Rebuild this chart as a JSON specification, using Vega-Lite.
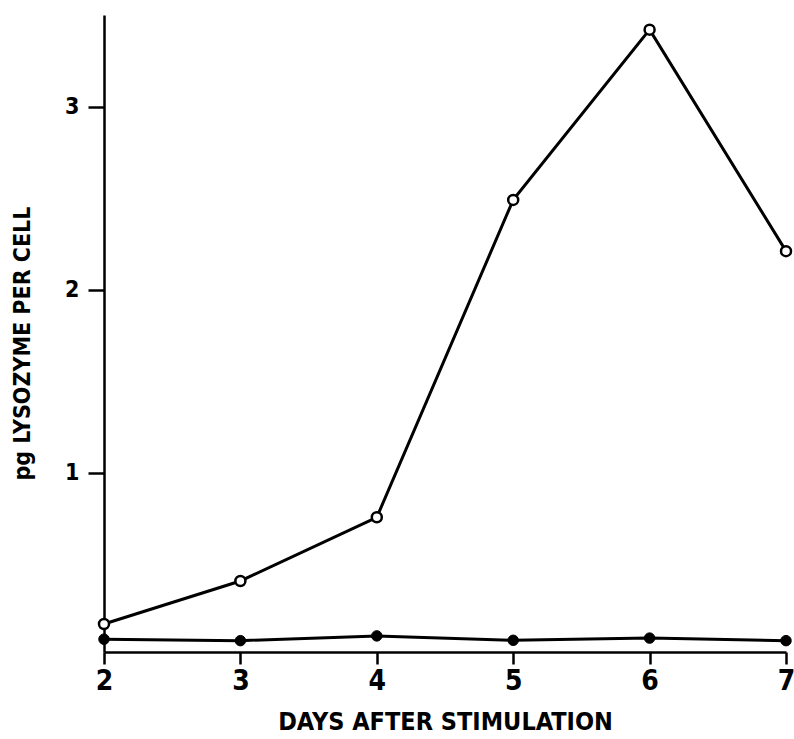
{
  "$schema": "https://vega.github.io/schema/vega-lite/v6.json",
  "width": 682,
  "height": 637,
  "autosize": {"type": "none"},
  "padding": {"left": 104, "top": 15, "right": 8, "bottom": 87},
  "background": "white",
  "config": {
    "view": {"stroke": null},
    "font": "DejaVu Sans Condensed, Liberation Sans, sans-serif"
  },
  "data": {
    "values": [
      {"day": 2, "lysozyme": 0.173, "group": "open"},
      {"day": 3, "lysozyme": 0.408, "group": "open"},
      {"day": 4, "lysozyme": 0.756, "group": "open"},
      {"day": 5, "lysozyme": 2.49, "group": "open"},
      {"day": 6, "lysozyme": 3.42, "group": "open"},
      {"day": 7, "lysozyme": 2.21, "group": "open"},
      {"day": 2, "lysozyme": 0.09, "group": "filled"},
      {"day": 3, "lysozyme": 0.082, "group": "filled"},
      {"day": 4, "lysozyme": 0.108, "group": "filled"},
      {"day": 5, "lysozyme": 0.084, "group": "filled"},
      {"day": 6, "lysozyme": 0.096, "group": "filled"},
      {"day": 7, "lysozyme": 0.082, "group": "filled"}
    ]
  },
  "encoding": {
    "x": {
      "field": "day", "type": "quantitative",
      "scale": {"domain": [2, 7], "nice": false, "zero": false},
      "axis": {
        "values": [2, 3, 4, 5, 6, 7], "grid": false, "labelFlush": false,
        "domainColor": "black", "domainWidth": 2.5,
        "tickColor": "black", "tickWidth": 2.5, "tickSize": 12,
        "labelFont": "DejaVu Sans Condensed, Liberation Sans, sans-serif", "labelFontWeight": "bold", "labelFontSize": 28, "labelColor": "black", "labelPadding": 3,
        "title": "DAYS AFTER STIMULATION",
        "titleFont": "DejaVu Sans Condensed, Liberation Sans, sans-serif", "titleFontWeight": "bold", "titleFontSize": 25, "titleColor": "black", "titlePadding": 14
      }
    },
    "y": {
      "field": "lysozyme", "type": "quantitative",
      "scale": {"domain": [0.02, 3.5], "nice": false, "zero": false},
      "axis": {
        "values": [1, 2, 3], "grid": false, "labelFlush": false,
        "domainColor": "black", "domainWidth": 2.5,
        "tickColor": "black", "tickWidth": 2.5, "tickSize": 16,
        "labelFont": "DejaVu Sans Condensed, Liberation Sans, sans-serif", "labelFontWeight": "bold", "labelFontSize": 23, "labelColor": "black", "labelPadding": 9,
        "title": "pg LYSOZYME PER CELL",
        "titleFont": "DejaVu Sans Condensed, Liberation Sans, sans-serif", "titleFontWeight": "bold", "titleFontSize": 23, "titleColor": "black", "titlePadding": 30, "titleY": 328
      }
    }
  },
  "layer": [
    {
      "mark": {"type": "line", "color": "black", "strokeWidth": 3},
      "encoding": {"detail": {"field": "group"}}
    },
    {
      "transform": [{"filter": "datum.group === 'open'"}],
      "mark": {"type": "point", "shape": "circle", "filled": true, "fill": "white", "stroke": "black", "strokeWidth": 2.5, "size": 100, "opacity": 1}
    },
    {
      "transform": [{"filter": "datum.group === 'filled'"}],
      "mark": {"type": "point", "shape": "circle", "filled": true, "fill": "black", "stroke": "black", "strokeWidth": 1, "size": 110, "opacity": 1}
    }
  ]
}
